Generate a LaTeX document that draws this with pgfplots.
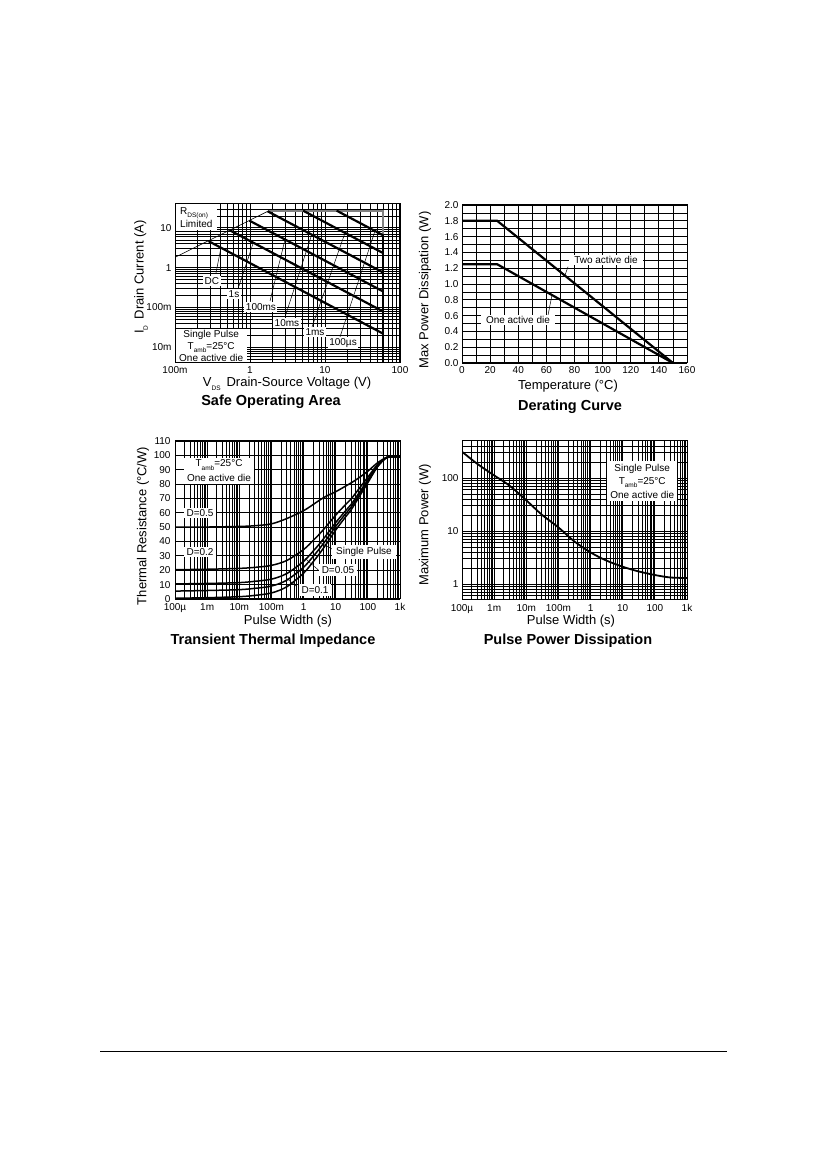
\documentclass[border=0pt]{standalone}
\usepackage{fontspec}
\setmainfont{Liberation Sans}
\usepackage{pgfplots}
\pgfplotsset{compat=1.18}

\newcommand{\tks}{\fontsize{10}{12}\selectfont}
\newcommand{\lbl}{\fontsize{13}{15}\selectfont}
\newcommand{\ttl}{\fontsize{14.5}{16}\selectfont\bfseries}
\newcommand{\ann}{\fontsize{10}{12}\selectfont}
\newcommand{\sub}[1]{\raisebox{-0.6ex}{\fontsize{6.5}{7}\selectfont #1}}

\pgfplotsset{
  ds/.style={
    scale only axis, anchor=south west,
    width=225pt, height=159pt,
    axis line style={line width=1pt},
    grid=both,
    major grid style={black, line width=0.9pt},
    minor grid style={black, line width=0.65pt},
    major tick length=0pt, minor tick length=0pt,
    tick label style={font=\tks},
    xticklabel style={text height=7.2pt, text depth=2.2pt},
  },
}
\tikzset{
  annbox/.style={fill=white, inner sep=1.5pt, font=\ann, align=center},
  ldr/.style={black, line width=0.5pt},
}

\pgfplotstableread{
t       zs     d05    d10    d20    d50
1e-4    0.5    5.5    10.5   20.4   50
1e-3    0.9    5.9    10.8   20.7   50.1
1e-2    1.6    6.5    11.4   21.3   50.5
0.03    2.5    7.4    12.3   22.0   51
0.1     4.2    9.0    13.8   23.4   52.3
0.3     8.5    13.1   17.7   26.8   56
1       18     22.1   26.2   34.4   61.5
2       26     29.7   33.4   40.8   65.8
3       31     34.5   37.9   44.8   68.5
5       38     41.1   44.2   50.4   71.5
10      48     50.6   53.2   58.4   74.7
20      57     59.2   61.3   65.6   78.5
30      62     63.9   65.8   69.6   80.8
50      70     71.5   73.0   76.0   84
100     81     82.0   82.9   84.8   89
200     92     92.4   92.8   93.6   94.8
400     98.5   98.6   98.7   98.8   98.6
1000    99     99     99     99     99
}\thermal

\pgfplotstableread{
t      p
1e-4   314
3e-4   185
1e-3   112
3e-3   72
1e-2   38
3e-2   20.5
0.1    11.7
0.3    6.5
1      3.95
3      2.8
10     2.12
30     1.74
100    1.48
300    1.33
1000   1.30
}\pulse

\begin{document}
\begin{tikzpicture}
\fill[white] (0,0) rectangle (826pt,1169pt);
\path[use as bounding box] (0,0) rectangle (826pt,1169pt);

% ---------------- Safe Operating Area ----------------
\begin{axis}[ds, at={(175pt,806pt)},
  xmode=log, ymode=log, xmin=0.1, xmax=100, ymin=0.004, ymax=40,
  xtick={0.1,1,10,100}, xticklabels={100m,1,10,100},
  ytick={0.01,0.1,1,10}, yticklabels={10m,100m,1,10},
  minor xtick={0.2,0.3,0.4,0.5,0.6,0.7,0.8,0.9,2,3,4,5,6,7,8,9,20,30,40,50,60,70,80,90},
  minor ytick={0.005,0.006,0.007,0.008,0.009,0.02,0.03,0.04,0.05,0.06,0.07,0.08,0.09,0.2,0.3,0.4,0.5,0.6,0.7,0.8,0.9,2,3,4,5,6,7,8,9,20,30},
]
\addplot[black, line width=0.6pt] coordinates {(0.1,1.82) (1.8,27.2)};
\addplot[black!50, line width=2pt] coordinates {(1.8,27.2) (60,27.2) (60,6.48)};
\addplot[black, line width=2.2pt] coordinates {(60,6.48) (60,0.004)};
\addplot[black, line width=2.2pt] coordinates {(0.28,4.65) (60,0.0217)};
\addplot[black, line width=2.2pt] coordinates {(0.536,8.77) (60,0.0783)};
\addplot[black, line width=2.2pt] coordinates {(0.98,15.3) (60,0.25)};
\addplot[black, line width=2.2pt] coordinates {(1.72,26.2) (60,0.75)};
\addplot[black, line width=2.2pt] coordinates {(5.1,27.2) (60,2.31)};
\addplot[black, line width=2.2pt] coordinates {(14.3,27.2) (60,6.48)};
% leaders
\draw[ldr] (axis cs:0.35,0.7) -- (axis cs:0.41,3.17);
\draw[ldr] (axis cs:0.713,0.346) -- (axis cs:1.107,4.25);
\draw[ldr] (axis cs:1.85,0.145) -- (axis cs:2.93,5.12);
\draw[ldr] (axis cs:2.93,0.0574) -- (axis cs:6.65,6.77);
\draw[ldr] (axis cs:6.71,0.0322) -- (axis cs:18.5,7.5);
\draw[ldr] (axis cs:15.85,0.018) -- (axis cs:46.4,8.38);
% labels
\node[annbox, anchor=north west, align=left, inner xsep=5pt, inner ysep=3pt] at (rel axis cs:0,1) {R\sub{DS(on)}\\[1pt]Limited};
\node[annbox] at (axis cs:0.311,0.462) {DC};
\node[annbox] at (axis cs:0.612,0.218) {1s};
\node[annbox] at (axis cs:1.40,0.1026) {100ms};
\node[annbox] at (axis cs:3.11,0.0406) {10ms};
\node[annbox] at (axis cs:7.36,0.0241) {1ms};
\node[annbox] at (axis cs:17.4,0.0127) {100µs};
\node[annbox, anchor=south west, inner xsep=4pt, inner ysep=1pt] at (rel axis cs:0,0) {Single Pulse\\T\sub{amb}=25°C\\One active die};
\end{axis}

% ---------------- Derating ----------------
\begin{axis}[ds, at={(462pt,806pt)}, height=158pt,
  xmin=0, xmax=160, ymin=0, ymax=2,
  xtick={0,20,40,60,80,100,120,140,160}, xticklabels={0,20,40,60,80,100,120,140,160},
  ytick={0,0.2,0.4,0.6,0.8,1.0,1.2,1.4,1.6,1.8,2.0},
  yticklabels={0.0,0.2,0.4,0.6,0.8,1.0,1.2,1.4,1.6,1.8,2.0},
  minor xtick={10,30,50,70,90,110,130,150},
  minor ytick={0.1,0.3,0.5,0.7,0.9,1.1,1.3,1.5,1.7,1.9},
]
\addplot[black, line width=2.2pt] coordinates {(0,1.8) (25,1.8) (150,0)};
\addplot[black, line width=2.2pt] coordinates {(0,1.25) (25,1.25) (150,0)};
\draw[ldr] (axis cs:75.4,1.219) -- (axis cs:73,1.1);
\draw[ldr] (axis cs:61.2,0.608) -- (axis cs:64,0.86);
\node[annbox, inner xsep=5pt] at (axis cs:102.4,1.304) {Two active die};
\node[annbox, inner xsep=5pt] at (axis cs:39.8,0.544) {One active die};
\end{axis}

% ---------------- Transient Thermal Impedance ----------------
\begin{axis}[ds, at={(175pt,570pt)}, height=158pt,
  xmode=log, xmin=1e-4, xmax=1000, ymin=0, ymax=110,
  xtick={1e-4,1e-3,1e-2,0.1,1,10,100,1000}, xticklabels={100µ,1m,10m,100m,1,10,100,1k},
  ytick={0,10,20,30,40,50,60,70,80,90,100,110},
  yticklabels={0,10,20,30,40,50,60,70,80,90,100,110},
  xticklabel style={yshift=-1pt},
  yticklabel style={xshift=-1pt},
  minor xtick={2e-4,3e-4,4e-4,5e-4,6e-4,7e-4,8e-4,9e-4,2e-3,3e-3,4e-3,5e-3,6e-3,7e-3,8e-3,9e-3,0.02,0.03,0.04,0.05,0.06,0.07,0.08,0.09,0.2,0.3,0.4,0.5,0.6,0.7,0.8,0.9,2,3,4,5,6,7,8,9,20,30,40,50,60,70,80,90,200,300,400,500,600,700,800,900},
]
\addplot[black, line width=1.5pt, smooth, tension=0.5] table[x=t, y=zs] {\thermal};
\addplot[black, line width=1.5pt, smooth, tension=0.5] table[x=t, y=d05] {\thermal};
\addplot[black, line width=1.5pt, smooth, tension=0.5] table[x=t, y=d10] {\thermal};
\addplot[black, line width=1.5pt, smooth, tension=0.5] table[x=t, y=d20] {\thermal};
\addplot[black, line width=1.5pt, smooth, tension=0.5] table[x=t, y=d50] {\thermal};
\draw[ldr] (axis cs:7.67,34.8) -- (axis cs:3.6,38.8);
\draw[ldr] (axis cs:2.88,20.2) -- (axis cs:1.11,28.3);
\draw[ldr] (axis cs:0.61,8.6) -- (axis cs:0.3,14.4);
\node[annbox, inner xsep=3pt] at (axis cs:0.00234,89.1) {T\sub{amb}=25°C\\[3pt]One active die};
\node[annbox, inner xsep=3pt] at (axis cs:6.0e-4,59.9) {D=0.5};
\node[annbox, inner xsep=3pt] at (axis cs:6.0e-4,32.7) {D=0.2};
\node[annbox, inner xsep=4pt, inner ysep=2.5pt] at (axis cs:76,32.7) {Single Pulse};
\node[annbox, inner xsep=3pt, inner ysep=2.5pt] at (axis cs:11.8,20.2) {D=0.05};
\node[annbox, inner xsep=3pt, inner ysep=2.5pt] at (axis cs:2.27,6.3) {D=0.1};
\end{axis}

% ---------------- Pulse Power Dissipation ----------------
\begin{axis}[ds, at={(462pt,569pt)}, height=159pt,
  xmode=log, ymode=log, xmin=1e-4, xmax=1000, ymin=0.5, ymax=500,
  xtick={1e-4,1e-3,1e-2,0.1,1,10,100,1000}, xticklabels={100µ,1m,10m,100m,1,10,100,1k},
  ytick={1,10,100}, yticklabels={1,10,100},
  xticklabel style={yshift=-1pt},
  minor xtick={2e-4,3e-4,4e-4,5e-4,6e-4,7e-4,8e-4,9e-4,2e-3,3e-3,4e-3,5e-3,6e-3,7e-3,8e-3,9e-3,0.02,0.03,0.04,0.05,0.06,0.07,0.08,0.09,0.2,0.3,0.4,0.5,0.6,0.7,0.8,0.9,2,3,4,5,6,7,8,9,20,30,40,50,60,70,80,90,200,300,400,500,600,700,800,900},
  minor ytick={0.6,0.7,0.8,0.9,2,3,4,5,6,7,8,9,20,30,40,50,60,70,80,90,200,300,400},
]
\addplot[black, line width=1.8pt, smooth, tension=0.5] table[x=t, y=p] {\pulse};
\node[annbox, inner xsep=3pt, inner ysep=3pt] at (axis cs:40.5,87.8) {Single Pulse\\[1.5pt]T\sub{amb}=25°C\\[1.5pt]One active die};
\end{axis}

% frames redrawn
\draw[line width=1pt] (175pt,806pt) rectangle ++(225pt,159pt);
\draw[line width=1pt] (462pt,806pt) rectangle ++(225pt,158pt);
\draw[line width=1pt] (175pt,570pt) rectangle ++(225pt,158pt);
\draw[line width=1pt] (462pt,569pt) rectangle ++(225pt,159pt);

% axis labels and titles
\node[rotate=90, font=\lbl] at (141pt,892pt) {I\sub{D}\hspace{6pt}Drain Current (A)};
\node[font=\lbl] at (287pt,785pt) {V\sub{DS}\hspace{6pt}Drain-Source Voltage (V)};
\node[font=\ttl] at (271pt,767pt) {Safe Operating Area};

\node[rotate=90, font=\lbl] at (425pt,879pt) {Max Power Dissipation (W)};
\node[font=\lbl] at (568pt,783pt) {Temperature (°C)};
\node[font=\ttl] at (570pt,762pt) {Derating Curve};

\node[rotate=90, font=\lbl] at (143pt,643pt) {Thermal Resistance (°C/W)};
\node[font=\lbl] at (288pt,548pt) {Pulse Width (s)};
\node[font=\ttl] at (273pt,528pt) {Transient Thermal Impedance};

\node[rotate=90, font=\lbl] at (425pt,644pt) {Maximum Power (W)};
\node[font=\lbl] at (571pt,548pt) {Pulse Width (s)};
\node[font=\ttl] at (568pt,528pt) {Pulse Power Dissipation};

\draw[line width=0.8pt] (100pt,118pt) -- (727pt,118pt);
\end{tikzpicture}
\end{document}
